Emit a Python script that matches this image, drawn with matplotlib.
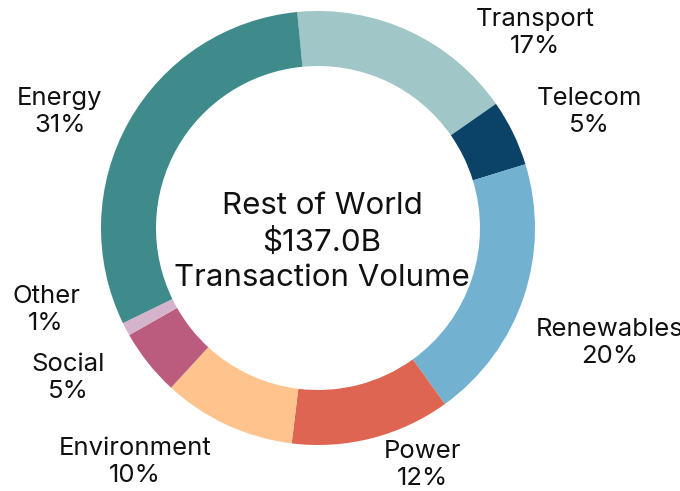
import matplotlib
matplotlib.use("Agg")
import matplotlib.pyplot as plt

# sector shares of transaction volume, clockwise from the top
sectors = ["Transport", "Telecom", "Renewables", "Power",
           "Environment", "Social", "Other", "Energy"]
shares = [17, 5, 20, 12, 10, 5, 1, 31]
colors = ["#A0C6C7", "#0A4268", "#73B1D0", "#DE6552",
          "#FFC38E", "#BB5C7F", "#D6B3CC", "#3F8A8B"]

region = "Rest of World"
total = "$137.0B"

# label anchor points in pixel space (x from left, y from top)
label_pos = [(535, 33), (589, 112), (610, 343), (422, 465),
             (135, 462), (68, 378), (46, 310), (60, 112)]

W, H = 680, 491
plt.rcParams['font.family'] = ['Inter', 'DejaVu Sans']

fig = plt.figure(figsize=(W / 100, H / 100), dpi=100)
ax = fig.add_axes([0, 0, 1, 1])

ax.pie(shares, colors=colors, startangle=95.5, counterclock=False,
       center=(318, H - 228), radius=217, frame=True,
       wedgeprops=dict(width=55, linewidth=0))
ax.set_xlim(0, W)
ax.set_ylim(0, H)
ax.set_aspect('equal')
ax.axis('off')

for name, pct, (x, y) in zip(sectors, shares, label_pos):
    ax.text(x, H - y, f"{name}\n{pct}%", ha='center', va='center',
            fontsize=18.5, color='#111111', linespacing=1.26)

ax.text(322, H - 242, f"{region}\n{total}\nTransaction Volume",
        ha='center', va='center', fontsize=22.5, color='#111111',
        linespacing=1.35)

fig.savefig("out.png", dpi=100)
